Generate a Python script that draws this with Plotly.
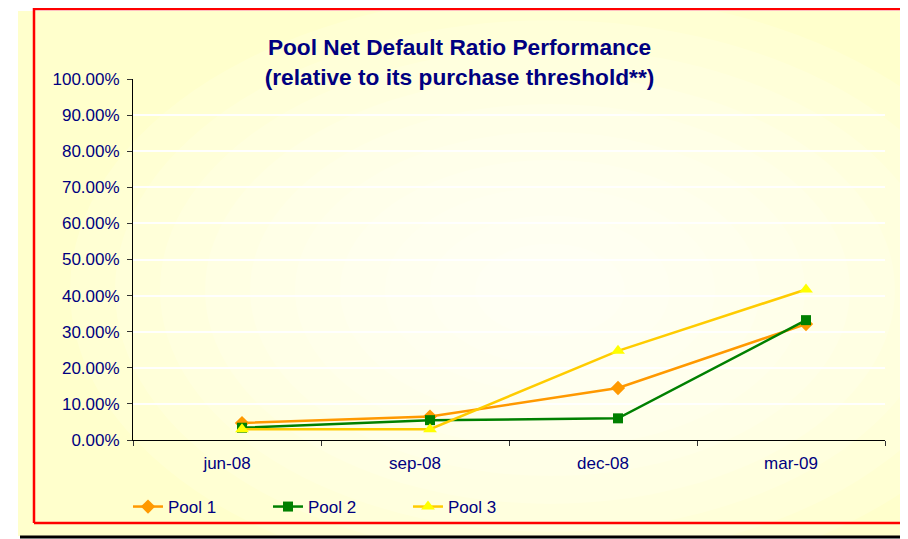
import plotly.graph_objects as go

# ── Data ──────────────────────────────────────────────────────────────────────
QUARTERS = ["jun-08", "sep-08", "dec-08", "mar-09"]
POOL_1 = [0.047, 0.065, 0.144, 0.321]
POOL_2 = [0.034, 0.055, 0.060, 0.332]
POOL_3 = [0.030, 0.030, 0.247, 0.417]
Y_TICKS = [0.0, 0.1, 0.2, 0.3, 0.4, 0.5, 0.6, 0.7, 0.8, 0.9, 1.0]

NAVY = "#000080"
FONT = "Liberation Sans, Arial, sans-serif"

# the page body has an 8px margin, so the figure starts at (8, 8) of the window
OFF = 8
W, H = 908 - OFF, 539 - OFF
# plot area in window pixels
PX_L, PX_R, PX_T, PX_B = 133, 885, 79, 440
# in the original the markers sit a little right of the category centres
MARK_SHIFT = 15 / 188


def px_x(p):
    return (p - PX_L) / (PX_R - PX_L)


def px_y(p):
    return (PX_B - p) / (PX_B - PX_T)


fig = go.Figure()

# invisible carrier so the labelled axis knows the categories
fig.add_trace(go.Scatter(
    x=QUARTERS, y=[None] * len(QUARTERS),
    mode="markers", showlegend=False, hoverinfo="skip",
))

series = [
    ("Pool 1", POOL_1, "#FF9900", "#FF9900", "diamond", 11),
    ("Pool 2", POOL_2, "#008000", "#008000", "square", 10),
    ("Pool 3", POOL_3, "#FFCC00", "#FFFF00", "triangle-up", 12),
]
for name, vals, line_c, mark_c, sym, size in series:
    fig.add_trace(go.Scatter(
        x=QUARTERS, y=vals,
        xaxis="x2",
        mode="lines+markers",
        name=name,
        line=dict(color=line_c, width=2.5),
        marker=dict(color=mark_c, symbol=sym, size=size, line=dict(width=0)),
    ))

# ── Background: pale yellow panel with a soft white glow in the middle ───────
shapes = [dict(
    type="rect", xref="paper", yref="paper", layer="below",
    x0=px_x(18), x1=px_x(901), y0=px_y(536), y1=px_y(11),
    fillcolor="#FFFFCC", line=dict(width=0),
)]
cx, cy = 550, 290
for i in range(10):
    rx = 480 - i * 45
    ry = rx * 0.62
    shapes.append(dict(
        type="circle", xref="paper", yref="paper", layer="below",
        x0=px_x(cx - rx), x1=px_x(cx + rx),
        y0=px_y(cy + ry), y1=px_y(cy - ry),
        fillcolor="rgba(255,255,255,0.15)", line=dict(width=0),
    ))

# black frame (right & bottom) and red outline on top
shapes += [
    dict(type="line", xref="paper", yref="paper", layer="above",
         x0=px_x(901.5), x1=px_x(901.5), y0=px_y(13), y1=px_y(538),
         line=dict(color="black", width=3)),
    dict(type="line", xref="paper", yref="paper", layer="above",
         x0=px_x(20), x1=px_x(903), y0=px_y(537), y1=px_y(537),
         line=dict(color="black", width=3)),
    dict(type="line", xref="paper", yref="paper", layer="above",
         x0=px_x(34), x1=px_x(34), y0=px_y(OFF), y1=px_y(523),
         line=dict(color="#FF0000", width=2.5)),
    dict(type="line", xref="paper", yref="paper", layer="above",
         x0=px_x(34), x1=px_x(912), y0=px_y(OFF + 1), y1=px_y(OFF + 1),
         line=dict(color="#FF0000", width=2.5)),
    dict(type="line", xref="paper", yref="paper", layer="above",
         x0=px_x(34), x1=px_x(912), y0=px_y(523), y1=px_y(523),
         line=dict(color="#FF0000", width=2.5)),
]

fig.update_layout(
    width=W, height=H,
    margin=dict(l=PX_L - OFF, r=W - (PX_R - OFF), t=PX_T - OFF,
                b=H - (PX_B - OFF), autoexpand=False),
    paper_bgcolor="white",
    plot_bgcolor="rgba(0,0,0,0)",
    font=dict(family=FONT, color=NAVY, size=17),
    title=dict(
        text="<b>Pool Net Default Ratio Performance<br>(relative to its purchase threshold**)</b>",
        font=dict(family=FONT, size=22.7, color=NAVY),
        x=(459.5 - OFF) / W, xanchor="center",
        y=1 - (55 - OFF) / H, yanchor="middle",
    ),
    shapes=shapes,
    showlegend=True,
    legend=dict(
        orientation="h",
        x=px_x(128), xanchor="left",
        y=px_y(507), yanchor="middle",
        bgcolor="rgba(0,0,0,0)",
        font=dict(family=FONT, size=17, color=NAVY),
        entrywidth=95, entrywidthmode="pixels",
        itemwidth=30,
    ),
    xaxis=dict(
        type="category",
        range=[-0.5, 3.5],
        showline=True, linecolor="black", linewidth=1,
        ticks="outside", tickson="boundaries", ticklen=5, tickcolor="#333333",
        showgrid=False,
        tickfont=dict(family=FONT, size=17, color=NAVY),
        ticklabelstandoff=8,
    ),
    xaxis2=dict(
        type="category", overlaying="x", visible=False,
        range=[-0.5 - MARK_SHIFT, 3.5 - MARK_SHIFT],
    ),
    yaxis=dict(
        range=[0, 1.0],
        tickvals=Y_TICKS,
        tickformat=".2%",
        showline=True, linecolor="black", linewidth=1,
        ticks="outside", ticklen=5, tickcolor="#333333",
        showgrid=True, gridcolor="rgba(255,255,255,0.95)", gridwidth=1.5,
        zeroline=False,
        tickfont=dict(family=FONT, size=17, color=NAVY),
        ticklabelstandoff=4,
    ),
)

fig.write_html("out.html")
